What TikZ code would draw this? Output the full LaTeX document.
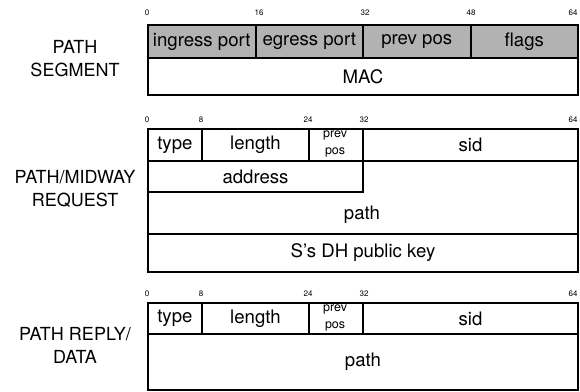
\documentclass[tikz,border=0pt]{standalone}
\usepackage{fontspec}
\setmainfont{TeX Gyre Heros}
\definecolor{fieldgray}{RGB}{178,178,178}
\begin{document}
\begin{tikzpicture}[x=1pt,y=-1pt,
 field/.style={draw=black, line width=2pt, inner sep=0pt, anchor=north west, font=\fontsize{18.6}{22}\selectfont},
 shaded/.style={field, fill=fieldgray},
 ticklbl/.style={anchor=base, font=\fontsize{8}{9}\selectfont, inner sep=0pt},
 side/.style={align=center, font=\fontsize{18}{23}\selectfont, inner sep=0pt},
 smalltxt/.style={align=center, inner sep=0pt, font=\fontsize{12.5}{17}\selectfont},
 bodytxt/.style={inner sep=0pt, font=\fontsize{18.6}{22}\selectfont}
]
\useasboundingbox (0,0) rectangle (580,391);

% ---------- PATH SEGMENT ----------
\node[side] (lseg) at (75,58.5) {PATH\\SEGMENT};
\node[ticklbl] (t0a) at (147,15) {0};
\node[ticklbl] (t16a) at (259,15) {16};
\node[ticklbl] (t32a) at (365,15) {32};
\node[ticklbl] (t48a) at (471,15) {48};
\node[ticklbl] (t64a) at (573,15) {64};
\node[shaded, minimum width=107.5, minimum height=33] (ing) at (147,24) {ingress port};
\node[shaded, minimum width=107.5, minimum height=33] (egr) at (254.5,24) {egress port};
\node[shaded, minimum width=107.5, minimum height=33] (prv) at (362,24) {prev pos};
\node[shaded, minimum width=107.5, minimum height=33] (flg) at (469.5,24) {flags};
\node[field, minimum width=430, minimum height=37] (mac) at (147,57) {MAC};

% ---------- PATH/MIDWAY REQUEST ----------
\node[side] (lreq) at (75,188.5) {PATH/MIDWAY\\REQUEST};
\node[ticklbl] (t0b) at (147,122) {0};
\node[ticklbl] (t8b) at (201,122) {8};
\node[ticklbl] (t24b) at (308,122) {24};
\node[ticklbl] (t32b) at (364,122) {32};
\node[ticklbl] (t64b) at (573,122) {64};
\node[field, minimum width=53.75, minimum height=32] (typeb) at (147,128) {type};
\node[field, minimum width=107.5, minimum height=32] (lenb) at (200.75,128) {length};
\node[field, minimum width=53.75, minimum height=32] (prvb) at (308.25,128) {};
\node[smalltxt] (prvbt) at (335.1,144) {prev\\pos};
\node[field, minimum width=215, minimum height=32] (sidb) at (362,128) {sid};
\node[field, minimum width=430, minimum height=73] (pathb) at (147,160) {};
\node[bodytxt] (pathbt) at (362,215) {path};
\node[field, fill=white, minimum width=215, minimum height=31] (addr) at (147,160) {address};
\node[field, minimum width=430, minimum height=38] (key) at (147,233) {S’s DH public key};

% ---------- PATH REPLY / DATA ----------
\node[side] (lrep) at (75,345) {PATH REPLY/\\DATA};
\node[ticklbl] (t0c) at (147,296) {0};
\node[ticklbl] (t8c) at (201,296) {8};
\node[ticklbl] (t24c) at (308,296) {24};
\node[ticklbl] (t32c) at (364,296) {32};
\node[ticklbl] (t64c) at (573,296) {64};
\node[field, minimum width=53.75, minimum height=31] (typec) at (147,302) {type};
\node[field, minimum width=107.5, minimum height=31] (lenc) at (200.75,302) {length};
\node[field, minimum width=53.75, minimum height=31] (prvc) at (308.25,302) {};
\node[smalltxt] (prvct) at (335.1,318) {prev\\pos};
\node[field, minimum width=215, minimum height=31] (sidc) at (362,302) {sid};
\node[field, minimum width=430, minimum height=56] (pathc) at (147,333) {path};
\end{tikzpicture}
\end{document}
